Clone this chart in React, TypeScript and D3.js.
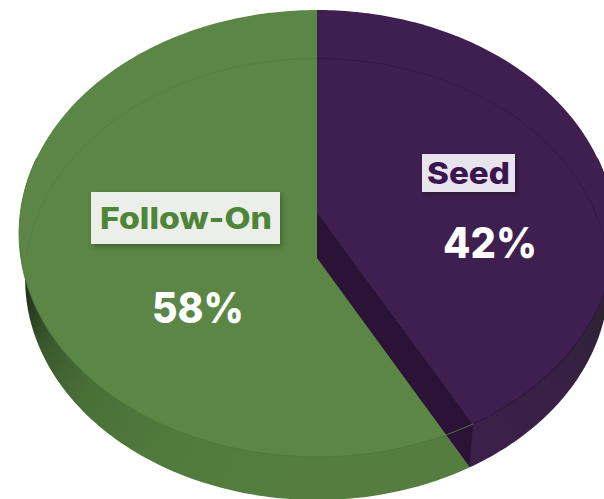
import React, { useMemo } from "react";
import * as d3 from "d3";

const categories = ["Seed", "Follow-On"];
const shares = [42, 58];
const faceColors = ["#3f1f4f", "#5b8645"];
const labelColors = ["#3a1650", "#4f8539"];
const labelBoxes = ["#e8e3ec", "#ecefe9"];

const W = 604;
const H = 499;
const CX = 317;
const K = -0.0962;

type Rim = { vy: number; R: number; C: number };
const topRim: Rim = { vy: 212, R: 296.5, C: 221.4 };
const baseRim: Rim = { vy: 258, R: 290.5, C: 218.7 };

const project = (rim: Rim, a: number): [number, number] => {
  const x = Math.sin(a);
  const y = -Math.cos(a);
  const d = 1 + K * y;
  return [CX + (rim.R * x) / d, rim.vy + (rim.C * y) / d];
};
const arcPts = (rim: Rim, a0: number, a1: number) =>
  d3.range(0, 181).map((i) => project(rim, a0 + ((a1 - a0) * i) / 180));
const line = d3.line();
const sector = (rim: Rim, a0: number, a1: number) =>
  line([[CX, rim.vy], ...arcPts(rim, a0, a1)]) + "Z";

export default function App() {
  const arcs = useMemo(() => d3.pie<number>().sort(null)(shares), []);
  const seed = arcs[0];
  const follow = arcs[1];
  const split = seed.endAngle;
  const t = 2 * Math.PI;
  const wedge =
    line([
      [CX, topRim.vy],
      project(topRim, split),
      project(baseRim, split),
      [CX, baseRim.vy],
    ]) + "Z";

  return (
    <svg
      width={W}
      height={H}
      viewBox={`0 0 ${W} ${H}`}
      style={{ position: "absolute", left: 0, top: 0, background: "#fff" }}
    >
      <defs>
        <linearGradient id="gs" gradientUnits="userSpaceOnUse" x1="28" y1="300" x2="300" y2="480">
          <stop offset="0" stopColor="#26351f" />
          <stop offset="0.12" stopColor="#3a5a2d" />
          <stop offset="0.3" stopColor="#496f37" />
          <stop offset="0.6" stopColor="#517a3d" />
          <stop offset="1" stopColor="#557d40" />
        </linearGradient>
        <linearGradient id="ps" gradientUnits="userSpaceOnUse" x1="475" y1="440" x2="604" y2="320">
          <stop offset="0" stopColor="#3c2049" />
          <stop offset="0.55" stopColor="#382046" />
          <stop offset="1" stopColor="#2f2236" />
        </linearGradient>
        <filter id="sh" x="-10%" y="-20%" width="120%" height="150%">
          <feDropShadow dx="2" dy="3" stdDeviation="2.5" floodColor="#000" floodOpacity="0.25" />
        </filter>
      </defs>

      <path d={sector(baseRim, follow.startAngle, follow.endAngle)} fill="url(#gs)" />
      <path d={sector(baseRim, seed.startAngle, seed.endAngle)} fill="url(#ps)" />
      <path d={sector(topRim, follow.startAngle, follow.endAngle)} fill={faceColors[1]} />
      <path d={wedge} fill="#2c1237" />
      <path d={sector(topRim, seed.startAngle, seed.endAngle)} fill={faceColors[0]} />

      {/* rim of the top face */}
      <path d={line(arcPts(topRim, split, t * 0.79)) ?? ""} fill="none" stroke="#4d7a38" strokeWidth={1} />
      <path d={line(arcPts(topRim, t * 0.21, split)) ?? ""} fill="none" stroke="#2e1340" strokeWidth={1} />
      {/* far edge of the base, seen through the face */}
      <path d={line(arcPts(baseRim, t * 0.75, t)) ?? ""} fill="none" stroke="#558140" strokeWidth={1} />
      <path d={line(arcPts(baseRim, 0, t * 0.25)) ?? ""} fill="none" stroke="#371845" strokeWidth={1} />

      <rect x={91} y={192} width={189} height={52} fill={labelBoxes[1]} filter="url(#sh)" />
      <rect x={422} y={154} width={93} height={38} fill={labelBoxes[0]} filter="url(#sh)" />

      <g fontFamily="Inter, 'Open Sans', sans-serif" fontWeight={800} textAnchor="middle">
        <text x={186} y={229} fontSize={30} fill={labelColors[1]} textLength={172} lengthAdjust="spacingAndGlyphs">{categories[1]}</text>
        <text x={468.5} y={184} fontSize={30} fill={labelColors[0]} textLength={83} lengthAdjust="spacingAndGlyphs">{categories[0]}</text>
        <text x={198} y={323} fontSize={43} fill="#fff" textLength={92} lengthAdjust="spacingAndGlyphs">{shares[1]}%</text>
        <text x={490} y={258} fontSize={43} fill="#fff" textLength={94} lengthAdjust="spacingAndGlyphs">{shares[0]}%</text>
      </g>
    </svg>
  );
}
